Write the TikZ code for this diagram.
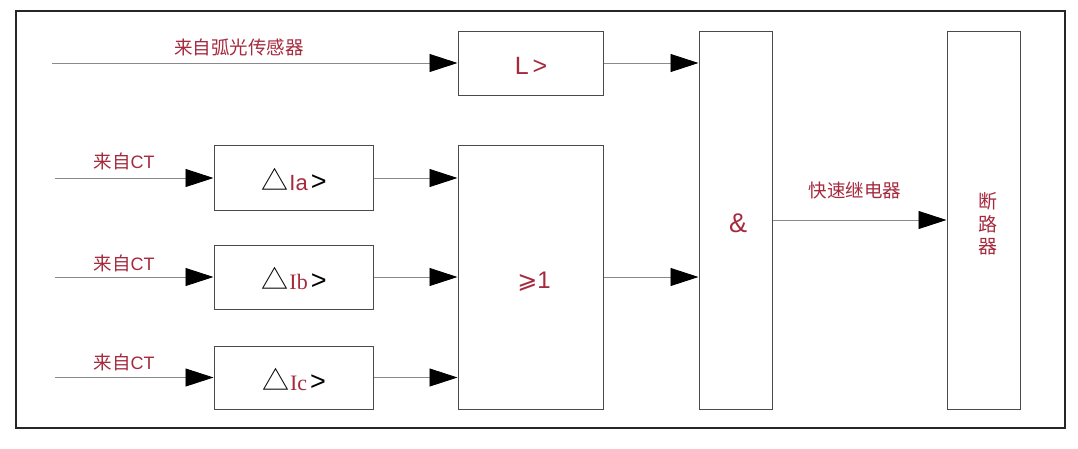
\documentclass[tikz,border=0pt]{standalone}
\usepackage{fontspec}
\setmainfont{Liberation Sans}
\newfontfamily\cjk{Noto Sans CJK SC}
\newfontfamily\serifA{Liberation Serif}
\newfontfamily\dejavu{DejaVu Sans}
\usetikzlibrary{arrows.meta}
\definecolor{txtred}{HTML}{A62A3E}
\definecolor{boxline}{HTML}{4A4A4A}
\definecolor{wire}{HTML}{8A8A8A}
\tikzset{
  blk/.style={draw=boxline, line width=1pt, inner sep=0pt, fill=white},
  lbl/.style={text=txtred, font=\cjk\fontsize{18.5}{20}\selectfont, inner sep=0pt},
  conn/.style={draw=wire, line width=0.8pt, -{Triangle[length=28pt,width=18pt,fill=black,color=black]}}
}
\begin{document}
\begin{tikzpicture}[x=1pt,y=-1pt]
\useasboundingbox (0,0) rectangle (1078,448);
\fill[white] (0,0) rectangle (1078,448);
\draw[line width=2pt, black!85] (16,11) rectangle (1065,428);

% boxes
\node[blk, minimum width=145pt, minimum height=64pt] (L) at (530.5,63) {};
\node[text=txtred, inner sep=0pt] (LT) at (531,66) {\fontsize{25}{27}\selectfont L\kern4pt>};
\node[blk, minimum width=145pt, minimum height=264pt] (Or) at (530.5,277) {};
\node[text=txtred, inner sep=0pt] (OrT) at (534,282) {\fontsize{24}{26}\selectfont{\dejavu ⩾}1};
\node[blk, minimum width=73pt, minimum height=378pt] (And) at (735.5,220) {};
\node[text=txtred, inner sep=0pt] (AndT) at (738,223) {\fontsize{27}{29}\selectfont\&};
\node[blk, minimum width=73pt, minimum height=378pt] (Brk) at (983.5,220) {};
\node[text=txtred, inner sep=0pt, align=center, font=\cjk\fontsize{19}{22.5}\selectfont] (BrkT) at (988,224) {断\\路\\器};

\node[blk, minimum width=159pt, minimum height=65pt] (Ia) at (293.5,177.5) {};
\node[inner sep=0pt] (IaT) at (294,179) {\fontsize{22}{24}\selectfont{\cjk\fontsize{27}{28}\selectfont △}\kern1pt{\color{txtred}Ia}\kern3pt{\fontsize{27}{28}\selectfont >}};
\node[blk, minimum width=159pt, minimum height=64pt] (Ib) at (293.5,277) {};
\node[inner sep=0pt] (IbT) at (294,278.5) {\fontsize{22}{24}\selectfont{\cjk\fontsize{27}{28}\selectfont △}\kern1pt{\color{txtred}\serifA Ib}\kern3pt{\fontsize{27}{28}\selectfont >}};
\node[blk, minimum width=159pt, minimum height=63pt] (Ic) at (293.5,377.5) {};
\node[inner sep=0pt] (IcT) at (294,379) {\fontsize{22}{24}\selectfont{\cjk\fontsize{27}{28}\selectfont △}\kern1pt{\color{txtred}\serifA Ic}\kern3pt{\fontsize{27}{28}\selectfont >}};

% free ends
\coordinate (sArc) at (52,63);
\coordinate (sA) at (55,178);
\coordinate (sB) at (55,277);
\coordinate (sC) at (55,377.5);

% labels
\node[lbl] (tArc) at (239,47) {来自弧光传感器};
\node[lbl] (tA) at (124,161) {来自{\fontspec{Liberation Sans}\fontsize{18}{20}\selectfont CT}};
\node[lbl] (tB) at (124,263) {来自{\fontspec{Liberation Sans}\fontsize{18}{20}\selectfont CT}};
\node[lbl] (tC) at (124,362) {来自{\fontspec{Liberation Sans}\fontsize{18}{20}\selectfont CT}};
\node[lbl] (tRel) at (855,190) {快速继电器};

% connectors
\draw[conn] (sArc) -- (L.west);
\draw[conn] (sA) -- (Ia.west |- sA);
\draw[conn] (sB) -- (Ib.west);
\draw[conn] (sC) -- (Ic.west |- sC);
\draw[conn] (Ia.east |- sA) -- (Or.west |- sA);
\draw[conn] (Ib.east) -- (Or.west |- Ib.east);
\draw[conn] (Ic.east |- sC) -- (Or.west |- sC);
\draw[conn] (L.east) -- (And.west |- L.east);
\draw[conn] (Or.east) -- (And.west |- Or.east);
\draw[conn] (And.east) -- (Brk.west);
\end{tikzpicture}
\end{document}
